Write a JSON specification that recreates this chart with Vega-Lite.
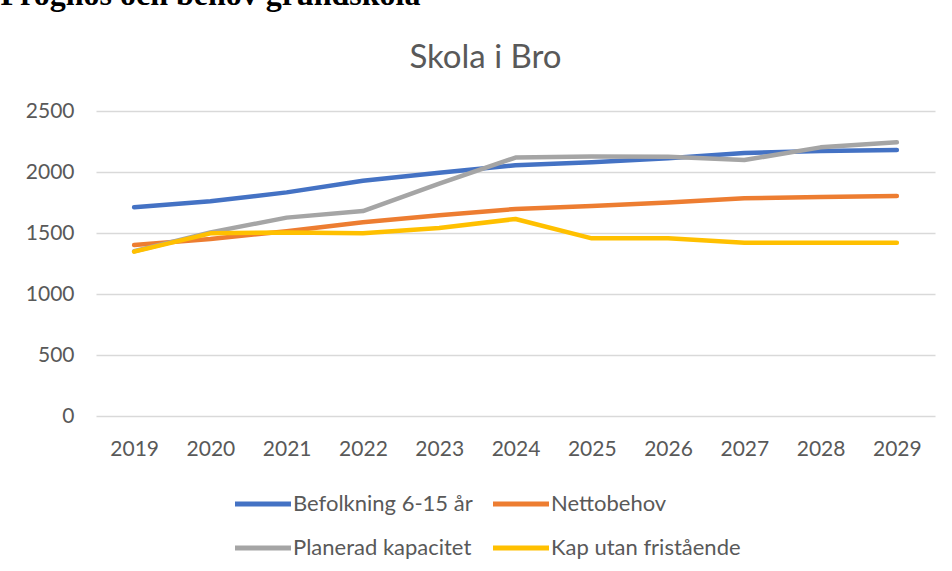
{
  "$schema": "https://vega.github.io/schema/vega-lite/v6.json",
  "autosize": {"type": "none"},
  "width": 839,
  "height": 305,
  "padding": {"left": 96, "top": 111, "right": 17, "bottom": 155},
  "background": "white",
  "config": {
    "view": {"stroke": null},
    "font": "Lato"
  },
  "data": {
    "values": [
      {"year": 2019, "series": "Befolkning 6-15 år", "value": 1711},
      {"year": 2020, "series": "Befolkning 6-15 år", "value": 1760},
      {"year": 2021, "series": "Befolkning 6-15 år", "value": 1833},
      {"year": 2022, "series": "Befolkning 6-15 år", "value": 1929},
      {"year": 2023, "series": "Befolkning 6-15 år", "value": 1994},
      {"year": 2024, "series": "Befolkning 6-15 år", "value": 2055},
      {"year": 2025, "series": "Befolkning 6-15 år", "value": 2080},
      {"year": 2026, "series": "Befolkning 6-15 år", "value": 2112},
      {"year": 2027, "series": "Befolkning 6-15 år", "value": 2155},
      {"year": 2028, "series": "Befolkning 6-15 år", "value": 2172},
      {"year": 2029, "series": "Befolkning 6-15 år", "value": 2180},
      {"year": 2019, "series": "Nettobehov", "value": 1401},
      {"year": 2020, "series": "Nettobehov", "value": 1450},
      {"year": 2021, "series": "Nettobehov", "value": 1515},
      {"year": 2022, "series": "Nettobehov", "value": 1588},
      {"year": 2023, "series": "Nettobehov", "value": 1645},
      {"year": 2024, "series": "Nettobehov", "value": 1697},
      {"year": 2025, "series": "Nettobehov", "value": 1721},
      {"year": 2026, "series": "Nettobehov", "value": 1751},
      {"year": 2027, "series": "Nettobehov", "value": 1784},
      {"year": 2028, "series": "Nettobehov", "value": 1795},
      {"year": 2029, "series": "Nettobehov", "value": 1803},
      {"year": 2019, "series": "Planerad kapacitet", "value": 1350},
      {"year": 2020, "series": "Planerad kapacitet", "value": 1505},
      {"year": 2021, "series": "Planerad kapacitet", "value": 1626},
      {"year": 2022, "series": "Planerad kapacitet", "value": 1680},
      {"year": 2023, "series": "Planerad kapacitet", "value": 1905},
      {"year": 2024, "series": "Planerad kapacitet", "value": 2118},
      {"year": 2025, "series": "Planerad kapacitet", "value": 2128},
      {"year": 2026, "series": "Planerad kapacitet", "value": 2126},
      {"year": 2027, "series": "Planerad kapacitet", "value": 2098},
      {"year": 2028, "series": "Planerad kapacitet", "value": 2202},
      {"year": 2029, "series": "Planerad kapacitet", "value": 2243},
      {"year": 2019, "series": "Kap utan fristående", "value": 1347},
      {"year": 2020, "series": "Kap utan fristående", "value": 1497},
      {"year": 2021, "series": "Kap utan fristående", "value": 1505},
      {"year": 2022, "series": "Kap utan fristående", "value": 1497},
      {"year": 2023, "series": "Kap utan fristående", "value": 1541},
      {"year": 2024, "series": "Kap utan fristående", "value": 1615},
      {"year": 2025, "series": "Kap utan fristående", "value": 1456},
      {"year": 2026, "series": "Kap utan fristående", "value": 1456},
      {"year": 2027, "series": "Kap utan fristående", "value": 1421},
      {"year": 2028, "series": "Kap utan fristående", "value": 1421},
      {"year": 2029, "series": "Kap utan fristående", "value": 1421}
    ]
  },
  "mark": {"type": "line", "strokeWidth": 4.5, "strokeCap": "round", "strokeJoin": "round"},
  "encoding": {
    "x": {
      "field": "year",
      "type": "ordinal",
      "title": "Skola i Bro",
      "axis": {
        "labelAngle": 0,
        "labelFont": "Lato",
        "labelFontSize": 21,
        "labelColor": "#595959",
        "labelPadding": 22,
        "ticks": false,
        "domain": false,
        "grid": false,
        "titleFont": "Lato",
        "titleFontSize": 33,
        "titleFontWeight": "normal",
        "titleColor": "#595959",
        "titleX": 389,
        "titleY": -349,
        "titleAlign": "center",
        "titleBaseline": "alphabetic"
      }
    },
    "y": {
      "field": "value",
      "type": "quantitative",
      "scale": {"domain": [0, 2500], "nice": false},
      "title": "Prognos och behov grundskola",
      "axis": {
        "values": [0, 500, 1000, 1500, 2000, 2500],
        "format": "d",
        "labelFont": "Lato",
        "labelFontSize": 21,
        "labelColor": "#595959",
        "labelPadding": 22,
        "ticks": false,
        "domain": false,
        "grid": true,
        "gridColor": "#d9d9d9",
        "gridWidth": 1.5,
        "titleFont": "Liberation Serif",
        "titleFontSize": 32,
        "titleFontWeight": "bold",
        "titleColor": "#000000",
        "titleAngle": 0,
        "titleX": -96,
        "titleY": -107,
        "titleAlign": "left",
        "titleBaseline": "alphabetic"
      }
    },
    "color": {
      "field": "series",
      "type": "nominal",
      "scale": {
        "domain": ["Befolkning 6-15 år", "Nettobehov", "Planerad kapacitet", "Kap utan fristående"],
        "range": ["#4472C4", "#ED7D31", "#A5A5A5", "#FFC000"]
      },
      "legend": {
        "title": null,
        "orient": "none",
        "legendX": 156,
        "legendY": 382,
        "direction": "horizontal",
        "columns": 2,
        "padding": 0,
        "columnPadding": 10,
        "rowPadding": 22,
        "symbolType": "M-4,0H4",
        "symbolSize": 196,
        "symbolStrokeWidth": 5,
        "labelOffset": 19,
        "labelFont": "Lato",
        "labelFontSize": 22,
        "labelColor": "#595959",
        "labelLimit": 400
      }
    }
  }
}
